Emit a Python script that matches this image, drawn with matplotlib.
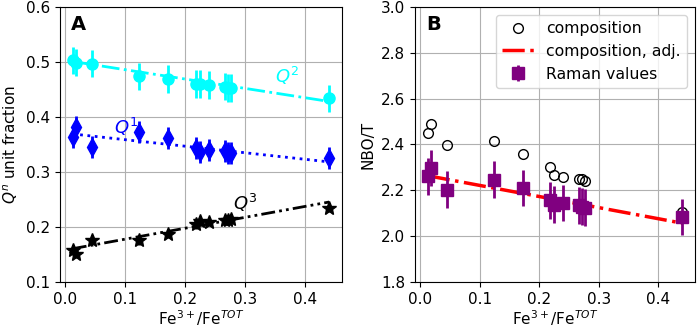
import numpy as np
import matplotlib
matplotlib.use("Agg")
from matplotlib import pyplot as plt

# Fe3+/FeTOT of the samples
fe_ratio = [0.013, 0.019, 0.045, 0.124, 0.172, 0.218, 0.225, 0.240, 0.267, 0.271, 0.277, 0.440]

# panel A: Qn unit fractions
q1 = [0.364, 0.382, 0.345, 0.373, 0.362, 0.343, 0.337, 0.340, 0.339, 0.335, 0.334, 0.325]
q2 = [0.503, 0.499, 0.497, 0.474, 0.469, 0.460, 0.460, 0.458, 0.455, 0.453, 0.453, 0.434]
q3 = [0.159, 0.151, 0.177, 0.176, 0.188, 0.205, 0.211, 0.209, 0.212, 0.213, 0.214, 0.235]
q1_err = 0.02
q2_err = 0.025
q3_err = 0.008
q1_fit = [0.3692, 0.3684, 0.3653, 0.3559, 0.3502, 0.3448, 0.3439, 0.3421, 0.3389, 0.3384, 0.3377, 0.3183]
q2_fit = [0.5008, 0.4998, 0.4954, 0.4819, 0.4738, 0.4659, 0.4648, 0.4622, 0.4576, 0.4569, 0.4559, 0.4282]
q3_fit = [0.1606, 0.1618, 0.1669, 0.1826, 0.1922, 0.2013, 0.2027, 0.2057, 0.2110, 0.2118, 0.2130, 0.2454]

# panel B: NBO/T
nbo_comp = [2.451, 2.489, 2.398, 2.417, 2.358, 2.302, 2.268, 2.258, 2.251, 2.249, 2.239, 2.106]
nbo_adj = [2.2637, 2.2608, 2.2482, 2.2099, 2.1866, 2.1643, 2.1609, 2.1536, 2.1405, 2.1386, 2.1357, 2.0566]
nbo_raman = [2.261, 2.298, 2.203, 2.246, 2.210, 2.156, 2.137, 2.144, 2.135, 2.129, 2.125, 2.083]
nbo_raman_err = 0.08

plt.rcParams['font.size'] = 11

fig = plt.figure(figsize=(6.99, 3.3), dpi=100)
axA = fig.add_axes([0.0858, 0.1455, 0.4035, 0.8333])
axB = fig.add_axes([0.5937, 0.1455, 0.4006, 0.8333])

# --- A ---
axA.errorbar(fe_ratio, q2, yerr=q2_err, fmt='o', color='cyan', ms=8, elinewidth=2)
axA.plot(fe_ratio, q2_fit, '-.', color='cyan', lw=2)
axA.errorbar(fe_ratio, q1, yerr=q1_err, fmt='d', color='blue', ms=9, elinewidth=2)
axA.plot(fe_ratio, q1_fit, ':', color='blue', lw=2)
axA.errorbar(fe_ratio, q3, yerr=q3_err, fmt='*', color='black', ms=10, elinewidth=2)
axA.plot(fe_ratio, q3_fit, color='black', lw=2, dashes=(5, 1.5, 1, 1.5, 1, 1.5))

axA.text(0.35, 0.474, '$Q^2$', color='cyan', fontsize=13, va='center')
axA.text(0.081, 0.381, '$Q^1$', color='blue', fontsize=13, va='center')
axA.text(0.28, 0.243, '$Q^3$', color='black', fontsize=13, va='center')
axA.text(0.04, 0.935, 'A', transform=axA.transAxes, fontsize=14, fontweight='bold', va='center')

axA.set_ylim(0.1, 0.6)
axA.set_xticks([0.0, 0.1, 0.2, 0.3, 0.4])
axA.set_ylabel('$Q^n$ unit fraction')
axA.set_xlabel('Fe$^{3+}$/Fe$^{TOT}$', labelpad=1)
axA.grid()

# --- B ---
axB.plot(fe_ratio, nbo_comp, 'o', mfc='none', mec='black', ms=7, label='composition')
axB.plot(fe_ratio, nbo_adj, '-.', color='red', lw=2.5, label='composition, adj.')
axB.errorbar(fe_ratio, nbo_raman, yerr=nbo_raman_err, fmt='s', color='purple', ms=8,
             elinewidth=2, label='Raman values')
axB.text(0.04, 0.935, 'B', transform=axB.transAxes, fontsize=14, fontweight='bold', va='center')

axB.set_ylim(1.8, 3.0)
axB.set_xticks([0.0, 0.1, 0.2, 0.3, 0.4])
axB.set_ylabel('NBO/T')
axB.set_xlabel('Fe$^{3+}$/Fe$^{TOT}$', labelpad=1)
axB.legend(loc='upper right', fontsize=11.3)
axB.grid()

plt.savefig('out.png', dpi=100)
